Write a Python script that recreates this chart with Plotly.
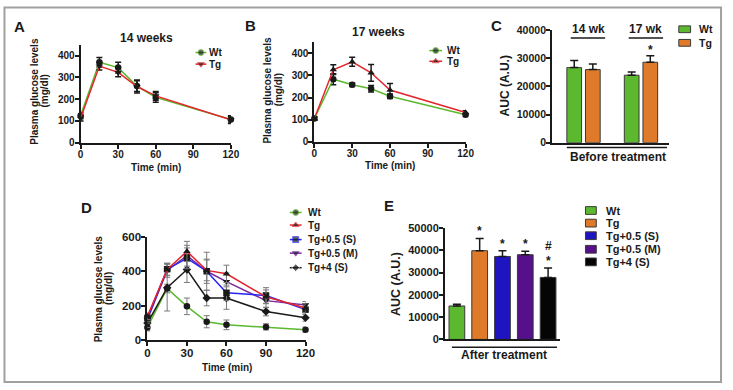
import plotly.graph_objects as go

W, H = 733, 390
FONT = "Liberation Sans, Arial, sans-serif"
INK = "#1a1a1a"

# ---------------- data ----------------
time_a = [0, 15, 30, 45, 60, 120]
a_wt = [125, 370, 345, 260, 208, 106]
a_wt_err = [15, 22, 25, 25, 22, 18]
a_tg = [112, 352, 323, 258, 215, 105]
a_tg_err = [12, 18, 20, 30, 20, 15]

time_b = [0, 15, 30, 45, 60, 120]
b_wt = [105, 283, 258, 240, 206, 122]
b_wt_err = [8, 25, 8, 15, 10, 8]
b_tg = [105, 326, 362, 312, 234, 132]
b_tg_err = [8, 22, 20, 38, 30, 8]

c_groups = ["14 wk", "17 wk"]
c_wt = [26700, 24000]
c_wt_err = [2500, 1100]
c_tg = [26000, 28600]
c_tg_err = [2000, 2300]

time_d = [0, 15, 30, 45, 60, 90, 120]
d_wt = [75, 300, 197, 108, 90, 78, 62]
d_wt_err = [20, 25, 48, 35, 28, 18, 15]
d_tg = [140, 410, 515, 405, 385, 252, 187]
d_tg_err = [20, 35, 58, 60, 50, 40, 25]
d_s = [130, 412, 475, 400, 275, 260, 178]
d_s_err = [20, 35, 60, 110, 45, 45, 25]
d_m = [120, 405, 490, 400, 340, 230, 205]
d_m_err = [20, 40, 60, 70, 50, 40, 20]
d_4 = [100, 305, 410, 245, 245, 167, 131]
d_4_err = [25, 135, 75, 45, 65, 25, 20]

e_groups = ["Wt", "Tg", "Tg+0.5 (S)", "Tg+0.5 (M)", "Tg+4 (S)"]
e_auc = [15000, 39800, 37200, 38000, 27800]
e_err = [800, 5500, 2600, 1600, 4200]

# ---------------- styles ----------------
GREEN_L, RED_L, BLUE_L, PURPLE_L = "#5cb82e", "#e3262b", "#2626f0", "#7a2a9e"
GREEN_B, ORANGE_B, BLUE_B, PURPLE_B, BLACK_B = "#5cb82e", "#de7a2a", "#1e14c0", "#55108a", "#050505"
e_colors = [GREEN_B, ORANGE_B, BLUE_B, PURPLE_B, BLACK_B]


def dx(a, b):
    return [a / W, b / W]


def dy(top, bottom):
    return [1 - bottom / H, 1 - top / H]


def px(x):
    return x / W


def py(y):
    return 1 - y / H


fig = go.Figure()


def line_trace(t, v, e, color, symbol, ax, ecolor=INK, ethick=1.5):
    fig.add_trace(go.Scatter(
        x=t, y=v, mode="lines+markers",
        line=dict(color=color, width=1.5),
        marker=dict(symbol=symbol, size=6.5, color=INK),
        error_y=dict(type="data", array=e, color=ecolor, thickness=ethick, width=3),
        xaxis="x" + ax, yaxis="y" + ax, showlegend=False, cliponaxis=False,
    ))


# Panel A
line_trace(time_a, a_wt, a_wt_err, GREEN_L, "circle", "")
line_trace(time_a, a_tg, a_tg_err, RED_L, "triangle-down", "")
# Panel B
line_trace(time_b, b_wt, b_wt_err, GREEN_L, "circle", "2")
line_trace(time_b, b_tg, b_tg_err, RED_L, "triangle-up", "2")

# Panel C bars
fig.add_trace(go.Bar(
    x=c_groups, y=c_wt, offset=-0.29, width=0.256,
    marker=dict(color=GREEN_B, line=dict(color="#3a3a3a", width=1)),
    error_y=dict(type="data", symmetric=False, array=c_wt_err, arrayminus=[0, 0],
                 color=INK, thickness=1.5, width=4),
    xaxis="x3", yaxis="y3", showlegend=False))
fig.add_trace(go.Bar(
    x=c_groups, y=c_tg, offset=0.034, width=0.256,
    marker=dict(color=ORANGE_B, line=dict(color="#3a3a3a", width=1)),
    error_y=dict(type="data", symmetric=False, array=c_tg_err, arrayminus=[0, 0],
                 color=INK, thickness=1.5, width=4),
    xaxis="x3", yaxis="y3", showlegend=False))

# Panel D
GRAY = "#7a7a7a"
line_trace(time_d, d_wt, d_wt_err, GREEN_L, "circle", "4", GRAY, 1)
line_trace(time_d, d_4, d_4_err, INK, "diamond", "4", GRAY, 1)
line_trace(time_d, d_m, d_m_err, PURPLE_L, "triangle-down", "4", GRAY, 1)
line_trace(time_d, d_s, d_s_err, BLUE_L, "square", "4", GRAY, 1)
line_trace(time_d, d_tg, d_tg_err, RED_L, "triangle-up", "4", GRAY, 1)

# Panel E bars
fig.add_trace(go.Bar(
    x=e_groups, y=e_auc, width=0.69,
    marker=dict(color=e_colors, line=dict(color="#3a3a3a", width=1)),
    error_y=dict(type="data", symmetric=False, array=e_err, arrayminus=[0] * 5,
                 color=INK, thickness=1.5, width=4),
    xaxis="x5", yaxis="y5", showlegend=False))


# Legend samples drawn on a pixel overlay axis
def legend_sample(x0, x1, y, color, symbol):
    fig.add_trace(go.Scatter(
        x=[x0, (x0 + x1) / 2, x1], y=[y, y, y], mode="lines+markers",
        line=dict(color=color, width=1.5),
        marker=dict(symbol=symbol, size=[0, 6, 0], color=INK),
        xaxis="x6", yaxis="y6", showlegend=False, hoverinfo="skip", cliponaxis=False))


legend_sample(196, 207, 48, GREEN_L, "circle")
legend_sample(196, 207, 60, RED_L, "triangle-down")
legend_sample(434, 447, 46, GREEN_L, "circle")
legend_sample(434, 447, 57, RED_L, "triangle-up")
d_leg = [("Wt", GREEN_L, "circle"), ("Tg", RED_L, "triangle-up"),
         ("Tg+0.5 (S)", BLUE_L, "square"), ("Tg+0.5 (M)", PURPLE_L, "triangle-down"),
         ("Tg+4 (S)", INK, "diamond")]
d_leg_y = [213, 226, 241, 255, 270]
for (name, col, sym), yy in zip(d_leg, d_leg_y):
    legend_sample(292, 304, yy, col, sym)


def axstyle(size, standoff=0, **kw):
    d = dict(showline=True, linewidth=2, linecolor=INK, ticks="outside", ticklen=4,
             tickwidth=2, tickcolor=INK, showgrid=False, zeroline=False,
             tickfont=dict(family=FONT, size=size, color=INK, weight="bold"),
             ticklabelstandoff=standoff, fixedrange=True)
    d.update(kw)
    return d


tv120 = [0, 30, 60, 90, 120]
fig.update_layout(
    width=W, height=H, margin=dict(l=0, r=0, t=0, b=0), autosize=False,
    paper_bgcolor="white", plot_bgcolor="rgba(0,0,0,0)", barmode="overlay",
    font=dict(family=FONT, color=INK),
    xaxis=axstyle(10, -3, domain=dx(79, 232), range=[0, 120], tickvals=tv120, anchor="y"),
    yaxis=axstyle(10, -2, domain=dy(40, 141), range=[0, 450], tickvals=[0, 100, 200, 300, 400], anchor="x"),
    xaxis2=axstyle(10, -3, domain=dx(317, 471), range=[0, 120], tickvals=tv120, anchor="y2"),
    yaxis2=axstyle(10, -2, domain=dy(37.5, 140), range=[0, 450], tickvals=[0, 100, 200, 300, 400], anchor="x2"),
    xaxis3=axstyle(10.5, 0, domain=dx(559, 678), type="category", range=[-0.547, 1.487],
                   ticks="", showticklabels=False, anchor="y3"),
    yaxis3=axstyle(10.5, -2, domain=dy(25, 141), range=[0, 40000], tickformat="d",
                   tickvals=[0, 10000, 20000, 30000, 40000], anchor="x3"),
    xaxis4=axstyle(11.5, -3, domain=dx(147, 308), range=[0, 120], tickvals=tv120, anchor="y4"),
    yaxis4=axstyle(11.5, -2, domain=dy(238, 345), range=[0, 600], tickvals=[0, 200, 400, 600], anchor="x4"),
    xaxis5=axstyle(11, 0, domain=dx(450, 567), type="category", range=[-0.52, 4.52],
                   ticks="", showticklabels=False, anchor="y5"),
    yaxis5=axstyle(11, -2, domain=dy(229, 344), range=[0, 50000], tickformat="d",
                   tickvals=[0, 10000, 20000, 30000, 40000, 50000], anchor="x5"),
    xaxis6=dict(domain=[0, 1], range=[0, W], visible=False, fixedrange=True, anchor="y6"),
    yaxis6=dict(domain=[0, 1], range=[H, 0], visible=False, fixedrange=True, anchor="x6"),
)

ann = []
shapes = []


def txt(x, y, s, size, xanchor="center", angle=0, **kw):
    a = dict(x=px(x), y=py(y), xref="paper", yref="paper", text=s, showarrow=False,
             xanchor=xanchor, yanchor="middle", textangle=angle,
             font=dict(family=FONT, size=size, color=INK, weight="bold"))
    a.update(kw)
    ann.append(a)


def hline(x0, x1, y, width=1.5):
    shapes.append(dict(type="line", xref="paper", yref="paper", x0=px(x0), x1=px(x1),
                       y0=py(y), y1=py(y), line=dict(color=INK, width=width)))


# panel letters
for L, x, y in [("A", 17, 21), ("B", 252, 20), ("C", 502, 20), ("D", 85, 208), ("E", 393, 206)]:
    txt(x, y, L, 15)

# titles
txt(146, 33, "14 weeks", 12)
txt(382, 27, "17 weeks", 12)
# x titles
txt(156, 167, "Time (min)", 10)
txt(394, 165, "Time (min)", 10)
txt(228, 373, "Time (min)", 10)
# y titles
for x1, x2, yc in [(32, 42, 88), (269, 280, 87), (97, 107, 292)]:
    txt(x1, yc, "Plasma glucose levels", 10, angle=-90)
    txt(x2, yc, "(mg/dl)", 10, angle=-90)
txt(512, 82, "AUC (A.U.)", 12, angle=-90)
txt(400, 287, "AUC (A.U.)", 12.5, angle=-90)

# line legends text
txt(208, 48, "Wt", 10, xanchor="left")
txt(208, 60, "Tg", 10, xanchor="left")
txt(450, 46, "Wt", 10, xanchor="left")
txt(450, 57, "Tg", 10, xanchor="left")
for (name, col, sym), yy in zip(d_leg, d_leg_y):
    txt(308, yy, name, 10, xanchor="left")

# C decorations
txt(596, 24, "14 wk", 12)
txt(654, 24, "17 wk", 12)
hline(578, 613, 33)
hline(637, 672, 33)
hline(574, 676, 146)
txt(626, 156, "Before treatment", 12)
ann.append(dict(x=1.162, y=c_tg[1] + c_tg_err[1], xref="x3", yref="y3", text="*",
                showarrow=False, yanchor="middle", yshift=6,
                font=dict(family=FONT, size=12, color=INK, weight="bold")))
for name, col, yy in [("Wt", GREEN_B, 24), ("Tg", ORANGE_B, 38)]:
    shapes.append(dict(type="rect", xref="paper", yref="paper", x0=px(688), x1=px(700),
                       y0=py(yy + 3.5), y1=py(yy - 3.5), fillcolor=col,
                       line=dict(color="#3a3a3a", width=1)))
    txt(707, yy, name, 10.5, xanchor="left")

# E decorations
hline(457, 564, 352)
txt(510, 360, "After treatment", 12)
for i, mark in [(1, "*"), (2, "*"), (3, "*"), (4, "*")]:
    ann.append(dict(x=i, y=e_auc[i] + e_err[i], xref="x5", yref="y5", text=mark,
                    showarrow=False, yanchor="middle", yshift=7,
                    font=dict(family=FONT, size=12, color=INK, weight="bold")))
ann.append(dict(x=4, y=e_auc[4] + e_err[4], xref="x5", yref="y5", text="#",
                showarrow=False, yanchor="middle", yshift=22,
                font=dict(family=FONT, size=12, color=INK, weight="bold")))
e_leg_y = [211, 224, 237, 251, 264]
for name, col, yy in zip(e_groups, e_colors, e_leg_y):
    shapes.append(dict(type="rect", xref="paper", yref="paper", x0=px(593), x1=px(604),
                       y0=py(yy + 4), y1=py(yy - 4), fillcolor=col,
                       line=dict(color="#3a3a3a", width=1)))
    txt(612, yy, name, 11, xanchor="left")

# outer frame
shapes.append(dict(type="rect", xref="paper", yref="paper", x0=px(1.5), x1=px(731),
                   y0=py(388), y1=py(1.5), line=dict(color="#a0a0a0", width=2)))

fig.update_layout(annotations=ann, shapes=shapes)
fig.write_html("out.html", config={"displayModeBar": False},
               post_script="document.body.style.margin='0';document.body.style.overflow='hidden';")
